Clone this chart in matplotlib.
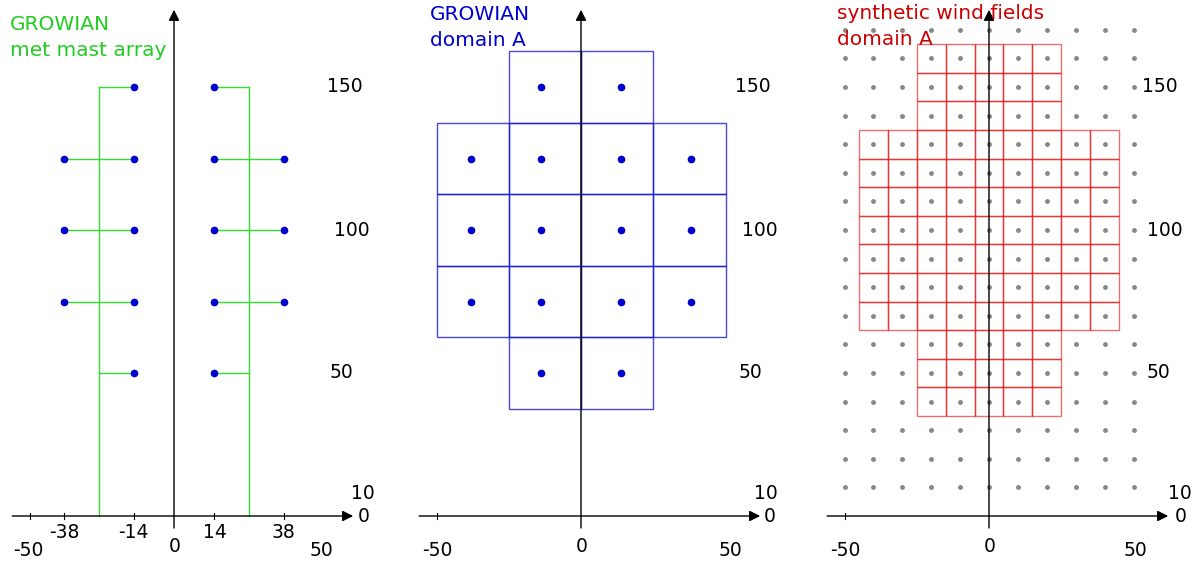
import matplotlib.pyplot as plt
from matplotlib.patches import Rectangle

# ---- panel 1: GROWIAN met mast array ----
mast_x = [-26, 26]
mast_top = 150
# booms: (x_start, x_end, height)
booms = [(-26, -14, 150), (14, 26, 150),
         (-38, -14, 125), (14, 38, 125),
         (-38, -14, 100), (14, 38, 100),
         (-38, -14, 75), (14, 38, 75),
         (-26, -14, 50), (14, 26, 50)]
sensor_x = [-14, 14, -38, -14, 14, 38, -38, -14, 14, 38, -38, -14, 14, 38, -14, 14]
sensor_h = [150, 150, 125, 125, 125, 125, 100, 100, 100, 100, 75, 75, 75, 75, 50, 50]
mast_ticks = [-50, -38, -14, 14, 38]
mast_tick_labels = ['-38', '-14', '14', '38']

# ---- panel 2: GROWIAN domain A ----
cellA = 25
domA_rows = [150, 125, 100, 75, 50]
domA_cols = {150: [-25, 0], 125: [-50, -25, 0, 25], 100: [-50, -25, 0, 25],
             75: [-50, -25, 0, 25], 50: [-25, 0]}

# ---- panel 3: synthetic wind fields ----
grid_x = [-50, -40, -30, -20, -10, 0, 10, 20, 30, 40, 50]
grid_y = [10, 20, 30, 40, 50, 60, 70, 80, 90, 100, 110, 120, 130, 140, 150, 160, 170]
cellS = 10
narrow_cols = [-20, -10, 0, 10, 20]
wide_cols = [-40, -30, -20, -10, 0, 10, 20, 30, 40]
narrow_rows = [160, 150, 140, 60, 50, 40]
wide_rows = [130, 120, 110, 100, 90, 80, 70]

# height labels on the right side and x labels under the axis
h_labels = ['150', '100', '50', '10', '0']
h_label_y = [150, 100, 50, 7.7, 0]
x_labels = ['-50', '0', '50']

W, H = 1195, 561
sx, sy = 2.89, 2.86
y0px = 516

fig = plt.figure(figsize=(W / 100, H / 100), dpi=100)


def make_axes(left, right, ox):
    ax = fig.add_axes([left / W, 0, (right - left) / W, 1])
    ax.set_xlim((left - ox) / sx, (right - ox) / sx)
    ax.set_ylim(-(H - y0px) / sy, y0px / sy)
    ax.axis('off')
    return ax


def draw_axes(ax, ticks, h_x, x_lab_x):
    arrow = dict(arrowstyle='-|>', color='black', lw=1,
                 mutation_scale=16, shrinkA=0, shrinkB=0)
    ax.annotate('', xy=(62, 0), xytext=(-56, 0), arrowprops=arrow)
    ax.annotate('', xy=(0, 177), xytext=(0, -4.2), arrowprops=arrow)
    for t in ticks:
        ax.plot([t, t], [-0.9, 0.9], color='black', lw=0.8)
    for lab, hx, hy in zip(h_labels, h_x, h_label_y):
        ax.text(hx, hy, lab, fontsize=13.5, ha='center', va='center')
    for lab, xx, yy in zip(x_labels, x_lab_x, [-11.9, -10.6, -11.9]):
        ax.text(xx, yy, lab, fontsize=13.5, ha='center', va='center')


# panel 1
ax1 = make_axes(0, 400, 174)
draw_axes(ax1, mast_ticks, [59, 61.5, 58, 65.5, 65.8], [-50.5, 0.3, 51])
for t, lab in zip(mast_ticks[1:], mast_tick_labels):
    ax1.text(t, -5.6, lab, fontsize=13.5, ha='center', va='center')
for mx in mast_x:
    ax1.plot([mx, mx], [0, mast_top], color='#33dd33', lw=1)
for x0, x1, h in booms:
    ax1.plot([x0, x1], [h, h], color='#33dd33', lw=1)
ax1.plot(sensor_x, sensor_h, 'o', color='#0000cc', ms=4.5, ls='none')
ax1.text(-56.8, 167.3, 'GROWIAN\nmet mast array', fontsize=14.5, color='#22cc22',
         ha='left', va='center', linespacing=1.45)

# panel 2
ax2 = make_axes(400, 800, 581)
draw_axes(ax2, [-50], [59.5, 62, 58.5, 63.8, 65.4], [-49.8, 0.3, 51.6])
for h in domA_rows:
    for c in domA_cols[h]:
        ax2.add_patch(Rectangle((c, h - cellA / 2), cellA, cellA, fill=False,
                                edgecolor='#1a1acc', lw=1, alpha=0.8))
ax2.plot(sensor_x, sensor_h, 'o', color='#0000cc', ms=4.5, ls='none')
ax2.text(-52.2, 170.8, 'GROWIAN\ndomain A', fontsize=14.5, color='#0000cc',
         ha='left', va='center', linespacing=1.45)

# panel 3
ax3 = make_axes(800, 1195, 989)
gx = [x for y in grid_y for x in grid_x]
gy = [y for y in grid_y for x in grid_x]
ax3.plot(gx, gy, 'o', color='#888888', ms=2.5, ls='none')
for rows, cols in [(narrow_rows, narrow_cols), (wide_rows, wide_cols)]:
    for h in rows:
        for c in cols:
            ax3.add_patch(Rectangle((c - cellS / 2, h - cellS / 2), cellS, cellS,
                                    fill=False, edgecolor='#dd1111', lw=1, alpha=0.6))
draw_axes(ax3, [-50], [59, 61, 58.5, 66, 66.4], [-49.8, 0.3, 50.5])
ax3.text(-52.6, 171.2, 'synthetic wind fields\ndomain A', fontsize=14.5, color='#cc0000',
         ha='left', va='center', linespacing=1.45)

fig.savefig('out.png', dpi=100)
